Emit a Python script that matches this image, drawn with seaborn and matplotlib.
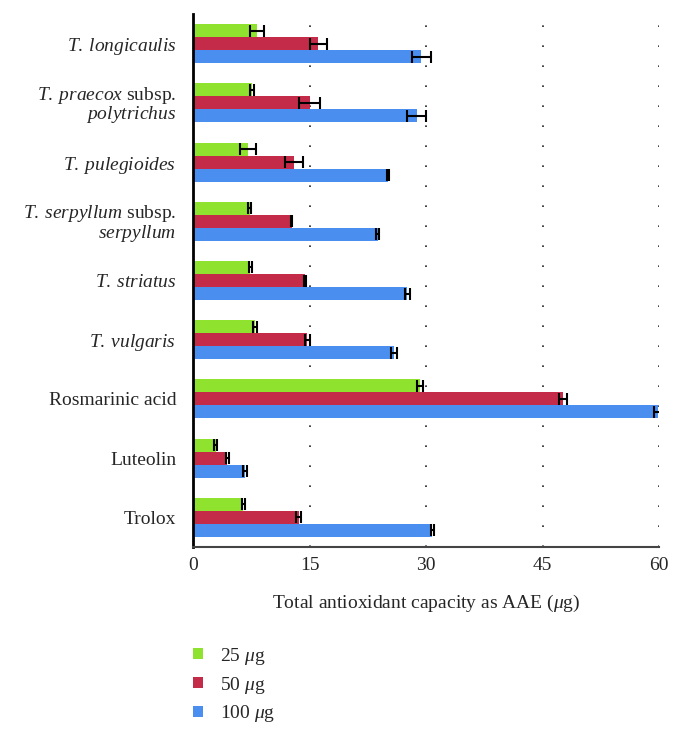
import seaborn as sns
import matplotlib.pyplot as plt
import pandas as pd
import numpy as np

# Data
samples = [
    r"$\mathit{T.\:longicaulis}$",
    r"$\mathit{T.\:praecox}$ subsp." + "\n" + r"$\mathit{polytrichus}$",
    r"$\mathit{T.\:pulegioides}$",
    r"$\mathit{T.\:serpyllum}$ subsp." + "\n" + r"$\mathit{serpyllum}$",
    r"$\mathit{T.\:striatus}$",
    r"$\mathit{T.\:vulgaris}$",
    "Rosmarinic acid",
    "Luteolin",
    "Trolox",
]
doses = [r"25 $\mu$g", r"50 $\mu$g", r"100 $\mu$g"]

mean_25 = [8.2, 7.6, 7.1, 7.3, 7.4, 8.0, 29.2, 2.9, 6.5]
mean_50 = [16.1, 15.0, 13.0, 12.7, 14.4, 14.7, 47.6, 4.4, 13.6]
mean_100 = [29.4, 28.8, 25.1, 23.8, 27.6, 25.9, 59.9, 6.7, 30.8]

sd_25 = [0.9, 0.2, 1.0, 0.2, 0.25, 0.3, 0.4, 0.2, 0.2]
sd_50 = [1.1, 1.3, 1.15, 0.1, 0.1, 0.3, 0.5, 0.2, 0.3]
sd_100 = [1.2, 1.25, 0.1, 0.2, 0.3, 0.4, 0.6, 0.3, 0.2]

colors = ["#8fe22e", "#c42b49", "#4a8ff0"]

df = pd.DataFrame({
    "sample": samples * 3,
    "dose": np.repeat(doses, len(samples)),
    "value": mean_25 + mean_50 + mean_100,
    "sd": sd_25 + sd_50 + sd_100,
})

sns.set_style("white")
plt.rcParams['font.family'] = ['Liberation Serif', 'DejaVu Serif']
plt.rcParams['mathtext.fontset'] = 'custom'
plt.rcParams['mathtext.rm'] = 'Liberation Serif'
plt.rcParams['mathtext.it'] = 'Liberation Serif:italic'
plt.rcParams['mathtext.bf'] = 'Liberation Serif:bold'

fs = 14

fig = plt.figure(figsize=(6.82, 7.33), dpi=100)
ax = fig.add_axes([193 / 682, 1 - 547 / 733, 466 / 682, 533 / 733])

sns.barplot(data=df, y="sample", x="value", hue="dose", order=samples,
            hue_order=doses, palette=colors, width=0.66, errorbar=None,
            linewidth=0, saturation=1, ax=ax, legend=True)

# error bars at the bar ends
for bars, d in zip(ax.containers, doses):
    sub = df[df["dose"] == d].set_index("sample").loc[samples]
    ys = [b.get_y() + b.get_height() / 2 for b in bars]
    ax.errorbar(sub["value"], ys, xerr=sub["sd"], fmt="none", ecolor="black",
                elinewidth=1.5, capsize=4, capthick=1.5, zorder=5)

ax.set_xlim(0, 60)
ax.set_ylim(len(samples) - 0.5, -0.5)
ax.set_xticks([0, 15, 30, 45, 60])
ax.xaxis.grid(True, color="#222222", linestyle=(0, (1, 11)), linewidth=1.2)
ax.set_axisbelow(True)

ax.set_xlabel(r"Total antioxidant capacity as AAE ($\mu$g)", fontsize=fs, labelpad=14)
ax.set_ylabel("")
ax.tick_params(axis="x", labelsize=fs, length=3, width=1, direction="out", pad=4)
ax.tick_params(axis="y", labelsize=fs, length=0, pad=12)
for lab in ax.get_yticklabels():
    lab.set_linespacing(0.9)

for side in ["top", "right"]:
    ax.spines[side].set_visible(False)
ax.spines["left"].set_color("black")
ax.spines["left"].set_linewidth(2)
ax.spines["bottom"].set_color("#444444")
ax.spines["bottom"].set_linewidth(1.5)

handles, labels = ax.get_legend_handles_labels()
ax.legend_.remove()
fig.legend(handles, labels, loc="upper left", bbox_to_anchor=(185 / 682, 1 - 638 / 733),
           frameon=False, fontsize=fs, handlelength=0.5, handleheight=0.5,
           handletextpad=0.9, labelspacing=0.4, borderaxespad=0)

plt.savefig("out.png", dpi=100)
